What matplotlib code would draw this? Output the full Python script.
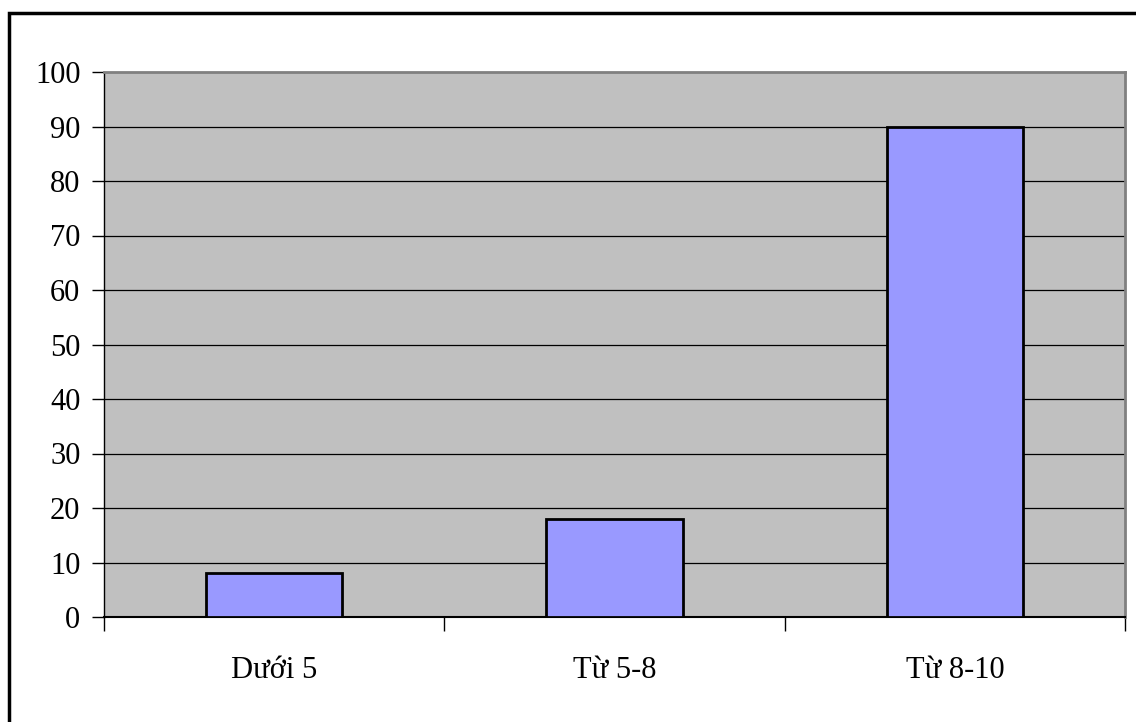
import matplotlib
matplotlib.use("Agg")
import matplotlib.pyplot as plt
from matplotlib.patches import Rectangle

categories = ["Dưới 5", "Từ 5-8", "Từ 8-10"]
values = [8, 18, 90]
yticks = [0, 10, 20, 30, 40, 50, 60, 70, 80, 90, 100]

plt.rcParams['font.family'] = ['Liberation Serif', 'DejaVu Serif']

fig = plt.figure(figsize=(11.36, 7.22), dpi=100)
fig.patch.set_facecolor('white')
ax = fig.add_axes([104/1136, 105/722, 1021/1136, 545/722])
ax.set_facecolor('#c0c0c0')

x = list(range(len(categories)))
ax.bar(x, values, width=0.4, color='#9999ff', edgecolor='black', linewidth=2, zorder=3)

ax.set_xlim(-0.5, len(categories) - 0.5)
ax.set_ylim(0, 100)
ax.set_yticks(yticks)
ax.set_yticklabels([str(v) for v in yticks], fontsize=22)
for v in yticks[1:-1]:
    ax.axhline(v, color='black', linewidth=0.9, zorder=1)

ax.set_xticks([i - 0.5 for i in range(len(categories) + 1)])
ax.set_xticklabels([])
ax.set_xticks(x, minor=True)
ax.set_xticklabels(categories, minor=True, fontsize=22)
ax.tick_params(axis='x', which='minor', length=0, pad=28)
ax.tick_params(axis='x', which='major', length=10, width=1, color='black', direction='out')
ax.tick_params(axis='y', length=9, width=1, color='black', direction='out', pad=8)

ax.spines['top'].set_color('#808080')
ax.spines['right'].set_color('#808080')
ax.spines['top'].set_linewidth(2)
ax.spines['right'].set_linewidth(2)
ax.spines['left'].set_color('black')
ax.spines['bottom'].set_color('black')
ax.spines['left'].set_linewidth(1)
ax.spines['bottom'].set_linewidth(1.5)

border = Rectangle((9/1136, -0.05), 1.2, (722 - 13)/722 + 0.05, transform=fig.transFigure,
                   fill=False, edgecolor='black', linewidth=2.5)
fig.patches.append(border)

fig.savefig("out.png", dpi=100)
